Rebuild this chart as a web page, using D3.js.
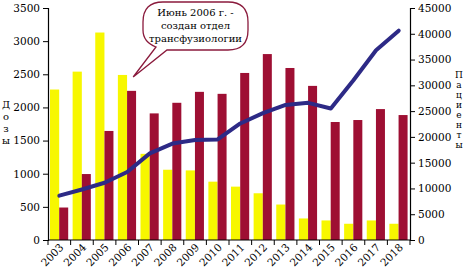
<!DOCTYPE html>
<html><head><meta charset="utf-8">
<script src="https://cdn.jsdelivr.net/npm/d3@7"></script>
<style>body{margin:0;background:#fff}svg{display:block}</style>
</head><body><svg id="c" width="467" height="273"></svg>
<script>
const years = ["2003","2004","2005","2006","2007","2008","2009","2010","2011","2012","2013","2014","2015","2016","2017","2018"];
const yellowVals = [2270,2540,3130,2490,1300,1060,1050,880,805,705,535,325,295,245,295,245];
const redVals = [490,995,1645,2250,1910,2070,2235,2205,2520,2805,2595,2325,1780,1810,1975,1885];
const lineVals = [8600,9800,11100,13200,16800,18700,19400,19500,22600,24600,26200,26600,25500,31000,36800,40600];
const leftTicks = [0,500,1000,1500,2000,2500,3000,3500];
const rightTicks = [0,5000,10000,15000,20000,25000,30000,35000,40000,45000];
const leftTitle = "Дозы";
const rightTitle = "Пациенты";
const calloutLines = ["Июнь 2006 г. -","создан отдел","трансфузиологии"];

const FONT = "'DejaVu Serif', serif";
const svg = d3.select("#c").attr("font-family", FONT);
const x0 = 48, x1 = 410, yTop = 8, yBot = 240;
const x = d3.scaleBand().domain(years).range([x0,x1]).padding(0);
const yL = d3.scaleLinear().domain([0,3500]).range([yBot,yTop]);
const yR = d3.scaleLinear().domain([0,45000]).range([yBot,yTop]);
const bw = x.bandwidth();
const yellow = "#f7f700", red = "#9e0f33", navy = "#2d2a86";

svg.append("g").selectAll("rect").data(years).join("rect")
  .attr("x", d=>x(d)+2).attr("width", 9.2)
  .attr("y", (d,i)=>yL(yellowVals[i])).attr("height",(d,i)=>yBot-yL(yellowVals[i]))
  .attr("fill", yellow);
svg.append("g").selectAll("rect").data(years).join("rect")
  .attr("x", d=>x(d)+11.2).attr("width", 9)
  .attr("y", (d,i)=>yL(redVals[i])).attr("height",(d,i)=>yBot-yL(redVals[i]))
  .attr("fill", red);

const line = d3.line().x((d,i)=>x(years[i])+bw/2).y(d=>yR(d)).curve(d3.curveLinear);
svg.append("path").attr("d", line(lineVals)).attr("fill","none").attr("stroke",navy).attr("stroke-width",4).attr("stroke-linejoin","round").attr("stroke-linecap","round");

// axes
const axL = svg.append("g").attr("transform",`translate(${x0},0)`)
  .call(d3.axisLeft(yL).tickValues(leftTicks).tickFormat(d3.format("d")).tickSizeOuter(0).tickSize(5).tickPadding(3));
const axR = svg.append("g").attr("transform",`translate(${x1},0)`)
  .call(d3.axisRight(yR).tickValues(rightTicks).tickFormat(d3.format("d")).tickSizeOuter(0).tickSize(5).tickPadding(3));
[axL,axR].forEach(a=>{a.attr("font-family",FONT).attr("font-size",10.5);
  a.select(".domain").attr("stroke","#000").attr("stroke-width",1.2);
  a.selectAll("text").attr("fill","#000");});

const bx = svg.append("g").attr("font-size",10.5);
bx.append("line").attr("x1",x0).attr("x2",x1).attr("y1",yBot).attr("y2",yBot).attr("stroke","#000").attr("stroke-width",1.2);
const bounds = years.map(d=>x(d)).concat([x1]);
bx.selectAll("line.t").data(bounds).join("line").attr("class","t")
  .attr("x1",d=>d).attr("x2",d=>d).attr("y1",yBot).attr("y2",yBot+5).attr("stroke","#000");
bx.selectAll("text").data(years).join("text")
  .attr("transform", d=>`translate(${x(d)+bw/2+5},${yBot+8}) rotate(-45)`)
  .attr("text-anchor","end").text(d=>d);

// axis titles stacked letters
svg.append("g").attr("font-size",10).selectAll("text").data(leftTitle.split("")).join("text")
  .attr("x",6).attr("y",(d,i)=>108+i*12).attr("text-anchor","middle").text(d=>d);
svg.append("g").attr("font-size",9).selectAll("text").data(rightTitle.split("")).join("text")
  .attr("x",459).attr("y",(d,i)=>78+i*10).attr("text-anchor","middle").text(d=>d);

// callout bubble
const bub = svg.append("g");
const bL=143,bR=248,bT=2,bB=50,r=20;
const path = `M${bL+r},${bT} L${bR-r},${bT} Q${bR},${bT} ${bR},${bT+r} L${bR},${bB-r} Q${bR},${bB} ${bR-r},${bB}
 L${167},${bB} L${x("2006")+bw/2+6},${77} L${156},${bB-3} Q${bL},${bB-8} ${bL},${bB-r} L${bL},${bT+r} Q${bL},${bT} ${bL+r},${bT} Z`;
bub.append("path").attr("d",path).attr("fill","#fff").attr("stroke","#8a1a3c").attr("stroke-width",1.3);
bub.selectAll("text").data(calloutLines).join("text")
  .attr("x",(bL+bR)/2).attr("y",(d,i)=>16+i*13).attr("text-anchor","middle").attr("font-size",10).text(d=>d);
</script></body></html>
